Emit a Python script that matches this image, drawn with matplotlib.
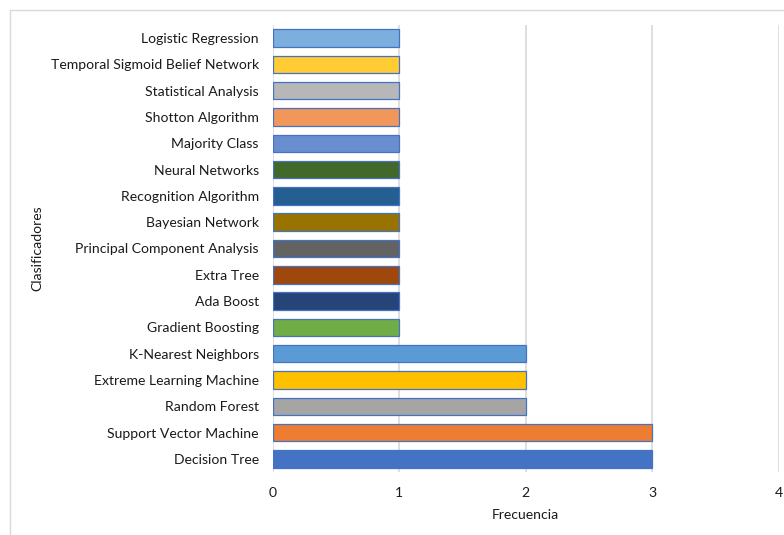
import matplotlib
matplotlib.use("Agg")
import matplotlib.pyplot as plt
from matplotlib.patches import Rectangle

# Classifiers ordered bottom to top, with how often each one was used
clasificadores = [
    "Decision Tree",
    "Support Vector Machine",
    "Random Forest",
    "Extreme Learning Machine",
    "K-Nearest Neighbors",
    "Gradient Boosting",
    "Ada Boost",
    "Extra Tree",
    "Principal Component Analysis",
    "Bayesian Network",
    "Recognition Algorithm",
    "Neural Networks",
    "Majority Class",
    "Shotton Algorithm",
    "Statistical Analysis",
    "Temporal Sigmoid Belief Network",
    "Logistic Regression",
]
frecuencia = [3, 3, 2, 2, 2, 1, 1, 1, 1, 1, 1, 1, 1, 1, 1, 1, 1]
colores = [
    "#4472C4", "#ED7D31", "#A5A5A5", "#FFC000", "#5B9BD5", "#70AD47",
    "#264478", "#9E480E", "#636363", "#997300", "#255E91", "#43682B",
    "#698ED0", "#F1975A", "#B7B7B7", "#FFCD33", "#7CAFDD",
]
x_ticks = [0, 1, 2, 3, 4]

plt.rcParams["font.family"] = ["Lato", "DejaVu Sans"]
text_color = "#1A1A1A"
fs = 10.1

fig = plt.figure(figsize=(7.84, 5.35), dpi=100)
ax = fig.add_axes([0.3476, 0.1178, 0.6460, 0.8355])

# light frame around the chart area
fig.patches.append(Rectangle((10 / 784, -0.1), 1.2, 1 - 9.5 / 535 + 0.1,
                             transform=fig.transFigure, fill=False,
                             edgecolor="#D9D9D9", linewidth=1.0))

pos = list(range(len(clasificadores)))
ax.barh(pos, frecuencia, height=0.665, color=colores,
        edgecolor="#4472C4", linewidth=0.9, zorder=3)

ax.set_xlim(0, 4)
ax.set_ylim(-0.5, len(clasificadores) - 0.5)
ax.set_xticks(x_ticks)
ax.set_yticks(pos)
ax.set_yticklabels(clasificadores)
ax.xaxis.grid(True, color="#D9D9D9", linewidth=1.2, zorder=0)
ax.yaxis.grid(False)
for s in ax.spines.values():
    s.set_visible(False)
ax.tick_params(axis="both", length=0, labelsize=fs, colors=text_color)
ax.tick_params(axis="y", pad=10)
ax.tick_params(axis="x", pad=11)

ax.set_xlabel("Frecuencia", fontsize=fs, color=text_color, labelpad=7)
fig.text(37 / 784, 1 - 248.5 / 535, "Clasificadores", rotation=90,
         ha="center", va="center", fontsize=fs, color=text_color)

fig.savefig("out.png", dpi=100)
